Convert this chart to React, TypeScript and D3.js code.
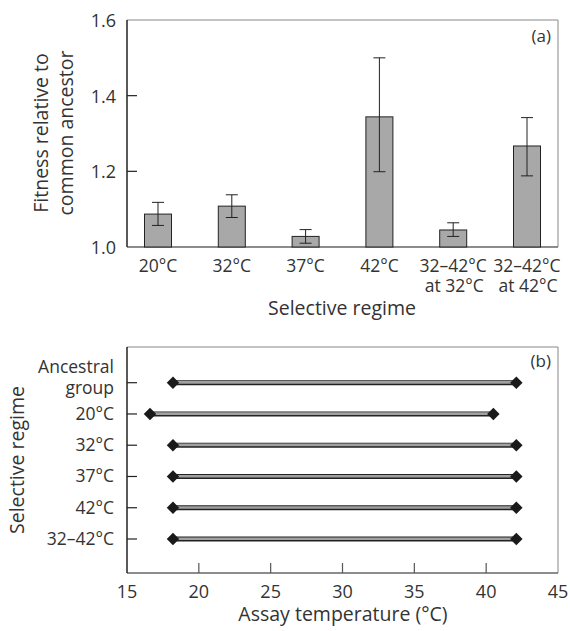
import React from "react";
import * as d3 from "d3";

const regimesA = ["20°C", "32°C", "37°C", "42°C", "32–42°C|at 32°C", "32–42°C|at 42°C"];
const fitness = [1.087, 1.108, 1.028, 1.344, 1.045, 1.267];
const errLow = [1.057, 1.078, 1.010, 1.199, 1.028, 1.188];
const errHigh = [1.118, 1.138, 1.046, 1.500, 1.064, 1.342];
const yTicksA = [1.0, 1.2, 1.4, 1.6];

const regimesB = ["Ancestral|group", "20°C", "32°C", "37°C", "42°C", "32–42°C"];
const rangeMin = [18.2, 16.6, 18.2, 18.2, 18.2, 18.2];
const rangeMax = [42.1, 40.5, 42.1, 42.1, 42.1, 42.1];
const xTicksB = [15, 20, 25, 30, 35, 40, 45];

const FONT = "'Open Sans', 'Noto Sans', sans-serif";
const TXT = "#333";
const TICK_FS = 18;
const CAT_FS = 17.5;
const TITLE_FS = 19.5;

export default function App() {
  const L = 127, R = 558;
  // panel a
  const aTop = 20, aBot = 247;
  const x = d3.scalePoint<string>().domain(regimesA).range([L, R]).padding(0.42);
  const y = d3.scaleLinear().domain([1.0, 1.6]).range([aBot, aTop]);
  const bw = 27;
  const cap = 12;

  // panel b
  const bTop = 347, bBot = 573;
  const xb = d3.scaleLinear().domain([15, 45]).range([L, R]);
  const yb = d3.scalePoint<string>().domain(regimesB).range([382.7, 539]);
  const diamond = d3.symbol(d3.symbolSquare, 78)();

  return (
    <svg width={570} height={631} style={{ position: "absolute", left: 0, top: 0 }} fontFamily={FONT}>
      <rect width={570} height={631} fill="#fff" />
      {/* Panel a frame */}
      <line x1={L} x2={R} y1={aTop} y2={aTop} stroke="#888" strokeWidth={1} />
      <line x1={R} x2={R} y1={aTop} y2={aBot} stroke="#888" strokeWidth={1} />
      <line x1={L} x2={R} y1={aBot} y2={aBot} stroke="#666" strokeWidth={1.3} />
      <line x1={L} x2={L} y1={aTop} y2={aBot} stroke="#222" strokeWidth={1.5} />
      {yTicksA.map((t) => (
        <g key={t}>
          {t > 1.0 && t < 1.6 && (
            <line x1={L} x2={L + 10} y1={y(t)} y2={y(t)} stroke="#222" strokeWidth={1.2} />
          )}
          <text x={116} y={y(t) + 7} textAnchor="end" fontSize={TICK_FS} fill={TXT}>
            {t.toFixed(1)}
          </text>
        </g>
      ))}
      {regimesA.map((r, i) => {
        const cx = x(r)!;
        const lines = r.split("|");
        return (
          <g key={r}>
            <rect x={cx - bw / 2} y={y(fitness[i])} width={bw} height={aBot - y(fitness[i])} fill="#a8a8a8" stroke="#222" strokeWidth={1} />
            <line x1={cx} x2={cx} y1={y(errLow[i])} y2={y(errHigh[i])} stroke="#222" strokeWidth={1} />
            <line x1={cx - cap / 2} x2={cx + cap / 2} y1={y(errLow[i])} y2={y(errLow[i])} stroke="#222" strokeWidth={1} />
            <line x1={cx - cap / 2} x2={cx + cap / 2} y1={y(errHigh[i])} y2={y(errHigh[i])} stroke="#222" strokeWidth={1} />
            {lines.map((ln, j) => (
              <text key={j} x={cx + (j === 1 ? 1 : 0)} y={272 + j * 20} textAnchor="middle" fontSize={CAT_FS} fill={TXT}>
                {ln}
              </text>
            ))}
          </g>
        );
      })}
      <text x={551} y={42} textAnchor="end" fontSize={17} fill={TXT}>(a)</text>
      <text x={342} y={315} textAnchor="middle" fontSize={TITLE_FS} fill={TXT}>Selective regime</text>
      <text transform="rotate(-90)" textAnchor="middle" fontSize={TITLE_FS} fill={TXT}>
        <tspan x={-133} y={48}>Fitness relative to</tspan>
        <tspan x={-133} y={73}>common ancestor</tspan>
      </text>

      {/* Panel b frame */}
      <line x1={L} x2={R} y1={bTop} y2={bTop} stroke="#888" strokeWidth={1} />
      <line x1={R} x2={R} y1={bTop} y2={bBot} stroke="#888" strokeWidth={1} />
      <line x1={L} x2={R} y1={bBot} y2={bBot} stroke="#666" strokeWidth={1.3} />
      <line x1={L} x2={L} y1={bTop} y2={bBot} stroke="#222" strokeWidth={1.5} />
      {xTicksB.map((t) => (
        <g key={t}>
          {t > 15 && t < 45 && (
            <line x1={xb(t)} x2={xb(t)} y1={bBot} y2={bBot - 10} stroke="#555" strokeWidth={1.2} />
          )}
          <text x={xb(t)} y={598} textAnchor="middle" fontSize={TICK_FS} fill={TXT}>{t}</text>
        </g>
      ))}
      {regimesB.map((r, i) => {
        const cy = yb(r)!;
        const lines = r.split("|");
        return (
          <g key={r}>
            <line x1={L} x2={L + 10} y1={cy} y2={cy} stroke="#222" strokeWidth={1.2} />
            <line x1={xb(rangeMin[i])} x2={xb(rangeMax[i])} y1={cy} y2={cy} stroke="#222" strokeWidth={5} />
            <line x1={xb(rangeMin[i])} x2={xb(rangeMax[i])} y1={cy - 0.3} y2={cy - 0.3} stroke="#a0a0a0" strokeWidth={2.6} />
            <path d={diamond} transform={`translate(${xb(rangeMin[i])},${cy}) rotate(45)`} fill="#1a1a1a" />
            <path d={diamond} transform={`translate(${xb(rangeMax[i])},${cy}) rotate(45)`} fill="#1a1a1a" />
            {lines.length === 2 ? (
              <>
                <text x={114} y={cy - 10} textAnchor="end" fontSize={CAT_FS} fill={TXT}>{lines[0]}</text>
                <text x={114} y={cy + 11} textAnchor="end" fontSize={CAT_FS} fill={TXT}>{lines[1]}</text>
              </>
            ) : (
              <text x={114} y={cy + 6} textAnchor="end" fontSize={CAT_FS} fill={TXT}>{r}</text>
            )}
          </g>
        );
      })}
      <text x={551} y={367} textAnchor="end" fontSize={17} fill={TXT}>(b)</text>
      <text x={343} y={621} textAnchor="middle" fontSize={TITLE_FS} fill={TXT}>Assay temperature (°C)</text>
      <text transform="rotate(-90)" x={-460} y={24} textAnchor="middle" fontSize={TITLE_FS} fill={TXT}>Selective regime</text>
    </svg>
  );
}
